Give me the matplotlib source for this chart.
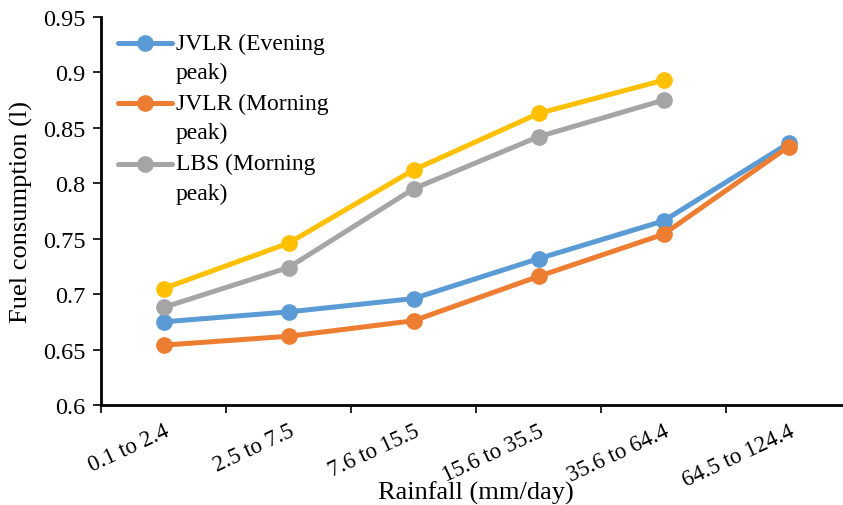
import matplotlib.pyplot as plt
import matplotlib.transforms as mtransforms

categories = ['0.1 to 2.4', '2.5 to 7.5', '7.6 to 15.5', '15.6 to 35.5', '35.6 to 64.4', '64.5 to 124.4']
jvlr_evening = [0.675, 0.684, 0.696, 0.732, 0.766, 0.836]
jvlr_morning = [0.654, 0.662, 0.676, 0.716, 0.754, 0.833]
lbs_morning = [0.688, 0.724, 0.795, 0.842, 0.875]
lbs_evening = [0.705, 0.746, 0.812, 0.863, 0.893]

plt.rcParams['font.family'] = ['Liberation Serif', 'DejaVu Serif']

fig = plt.figure(figsize=(8.43, 5.06), dpi=100)
ax = fig.add_axes([101 / 843, 1 - 406 / 506, 750 / 843, 388 / 506])

x = list(range(len(categories)))
style = dict(lw=3.6, marker='o', ms=11, solid_capstyle='round')
ax.plot(x, jvlr_evening, color='#5B9BD5', label='JVLR (Evening\npeak)', **style)
ax.plot(x, jvlr_morning, color='#ED7D31', label='JVLR (Morning\npeak)', **style)
ax.plot(x[:5], lbs_morning, color='#A5A5A5', label='LBS (Morning\npeak)', **style)
ax.plot(x[:5], lbs_evening, color='#FFC000', **style)

ax.set_xlim(-0.5, 5.5)
ax.set_ylim(0.6, 0.95)
ax.set_yticks([0.6, 0.65, 0.7, 0.75, 0.8, 0.85, 0.9, 0.95])
ax.set_yticklabels(['0.6', '0.65', '0.7', '0.75', '0.8', '0.85', '0.9', '0.95'])
ax.set_xticks([i - 0.5 for i in range(7)])
ax.set_xticklabels([])
ax.set_xticks(x, minor=True)
ax.set_xticklabels(categories, minor=True, rotation=25, ha='right',
                   rotation_mode='anchor', fontsize=16.5)
ax.tick_params(axis='x', which='minor', length=0, pad=11)
ax.tick_params(axis='x', which='major', length=6, width=1.2)
ax.tick_params(axis='y', length=6, width=1.2, labelsize=17.5, pad=5)

for side in ['top', 'right']:
    ax.spines[side].set_visible(False)
for side in ['left', 'bottom']:
    ax.spines[side].set_linewidth(2)

ax.set_ylabel('Fuel consumption (l)', fontsize=19)
ax.yaxis.set_label_coords(-0.09, 0.5)
ax.set_xlabel('Rainfall (mm/day)', fontsize=19, labelpad=-7)

leg = ax.legend(loc='upper left', bbox_to_anchor=(-0.006, 1.015), frameon=False,
                fontsize=17, handlelength=2.3, handletextpad=0.15,
                labelspacing=0.42)
for t in leg.get_texts():
    t.set_linespacing(1.5)
# put the handle next to the first line of each two-line label
shift = mtransforms.ScaledTranslation(0, 0.145, fig.dpi_scale_trans)
for h in leg.legend_handles:
    h.set_transform(h.get_transform() + shift)

fig.savefig('out.png', dpi=100)
